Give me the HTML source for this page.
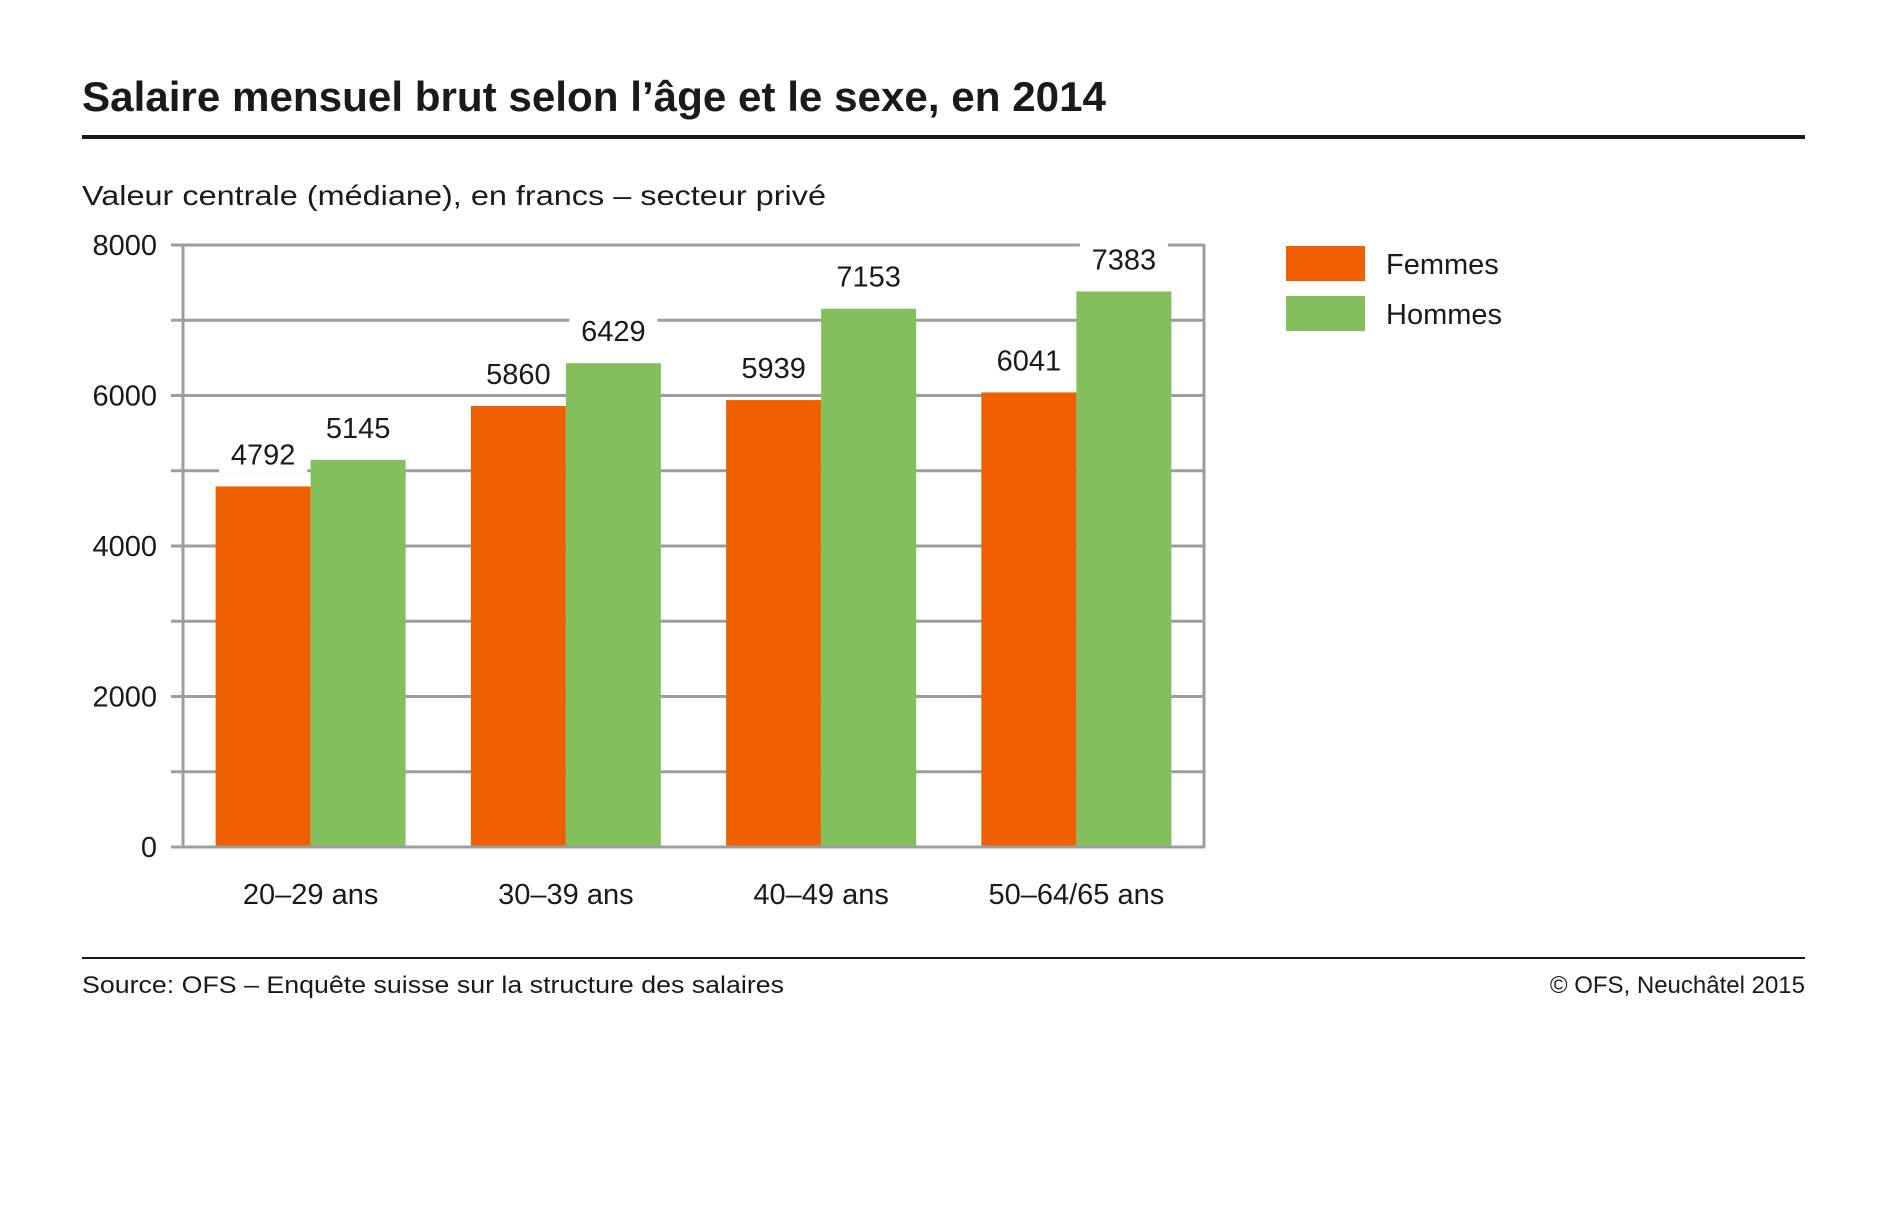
<!DOCTYPE html>
<html><head><meta charset="utf-8"><style>
html,body{margin:0;padding:0;background:#fff;}
svg{display:block;font-family:"Liberation Sans",sans-serif;}
</style></head><body>
<svg id="chart" width="1880" height="1226" viewBox="0 0 1880 1226">
<text x="82" y="111" font-size="42" font-weight="bold" fill="#1a1a1a" textLength="1024" lengthAdjust="spacingAndGlyphs">Salaire mensuel brut selon l’âge et le sexe, en 2014</text>
<rect x="82" y="135" width="1723" height="4" fill="#1a1a1a"/>
<text x="82" y="205" font-size="28" fill="#1a1a1a" textLength="744" lengthAdjust="spacingAndGlyphs">Valeur centrale (médiane), en francs – secteur privé</text>
<g id="grid"></g>
<g id="bars"></g>
<g id="labels"></g>
<g id="axes"></g>
<rect x="1286" y="246" width="79" height="35" fill="#ee6000"/>
<text x="1386" y="274" font-size="29" fill="#1a1a1a">Femmes</text>
<rect x="1286" y="296" width="79" height="35" fill="#84bf5e"/>
<text x="1386" y="324" font-size="29" fill="#1a1a1a">Hommes</text>
<rect x="82" y="957" width="1723" height="2" fill="#1a1a1a"/>
<text x="82" y="993" font-size="24" fill="#1a1a1a" textLength="702" lengthAdjust="spacingAndGlyphs">Source: OFS – Enquête suisse sur la structure des salaires</text>
<text x="1805" y="993" font-size="24" fill="#1a1a1a" text-anchor="end">© OFS, Neuchâtel 2015</text>
</svg>
<script>
const categories = ["20–29 ans","30–39 ans","40–49 ans","50–64/65 ans"];
const femmes = [4792,5860,5939,6041];
const hommes = [5145,6429,7153,7383];
const yTicks = [0,2000,4000,6000,8000];
const gridValues = [1000,2000,3000,4000,5000,6000,7000,8000];

const NS="http://www.w3.org/2000/svg";
const L=183,R=1204,T=245,B=847,yMax=8000;
const y=v=>B-(v/yMax)*(B-T);
const gw=(R-L)/categories.length, bw=95, off=(gw-2*bw)/2;
function mk(tag,attrs,parent){const e=document.createElementNS(NS,tag);for(const k in attrs)e.setAttribute(k,attrs[k]);parent.appendChild(e);return e;}
const grid=document.getElementById('grid'),bars=document.getElementById('bars'),labels=document.getElementById('labels'),axes=document.getElementById('axes');
gridValues.forEach(v=>{
  const l=mk('line',{x1:171,x2:R,y1:y(v),y2:y(v),stroke:'#9d9d9d','stroke-width':3},grid);
  
  
});
yTicks.forEach(v=>{
  const t=mk('text',{x:157,y:y(v)+10,'font-size':29,'text-anchor':'end',fill:'#1a1a1a'},axes);
  t.textContent=v;
  
  
});
const ax=mk('line',{x1:L,x2:L,y1:T-1,y2:B,stroke:'#9d9d9d','stroke-width':3},axes);


const ax2=mk('line',{x1:R,x2:R,y1:T-1,y2:B,stroke:'#9d9d9d','stroke-width':3},axes);


const ax3=mk('line',{x1:171,x2:R+1,y1:B,y2:B,stroke:'#9d9d9d','stroke-width':3},axes);


function label(cx,v){
  const ty=y(v)-22;
  const bg=mk('rect',{x:cx-44,y:ty-26,width:88,height:34,fill:'#fff'},labels);
  
  
  const t=mk('text',{x:cx,y:ty,'font-size':29,'text-anchor':'middle',fill:'#1a1a1a'},labels);
  t.textContent=v;
  
  
}
categories.forEach((c,i)=>{
  const x0=L+i*gw+off;
  const bf=mk('rect',{x:x0,y:y(femmes[i]),width:bw,height:B-y(femmes[i]),fill:'#ee6000'},bars);
  
  
  const bh=mk('rect',{x:x0+bw,y:y(hommes[i]),width:bw,height:B-y(hommes[i]),fill:'#84bf5e'},bars);
  
  
  label(x0+bw/2,femmes[i]);
  label(x0+bw*1.5,hommes[i]);
  const t=mk('text',{x:x0+bw,y:904,'font-size':29,'text-anchor':'middle',fill:'#1a1a1a'},axes);
  t.textContent=c;
  
  
});
</script>
</body></html>
